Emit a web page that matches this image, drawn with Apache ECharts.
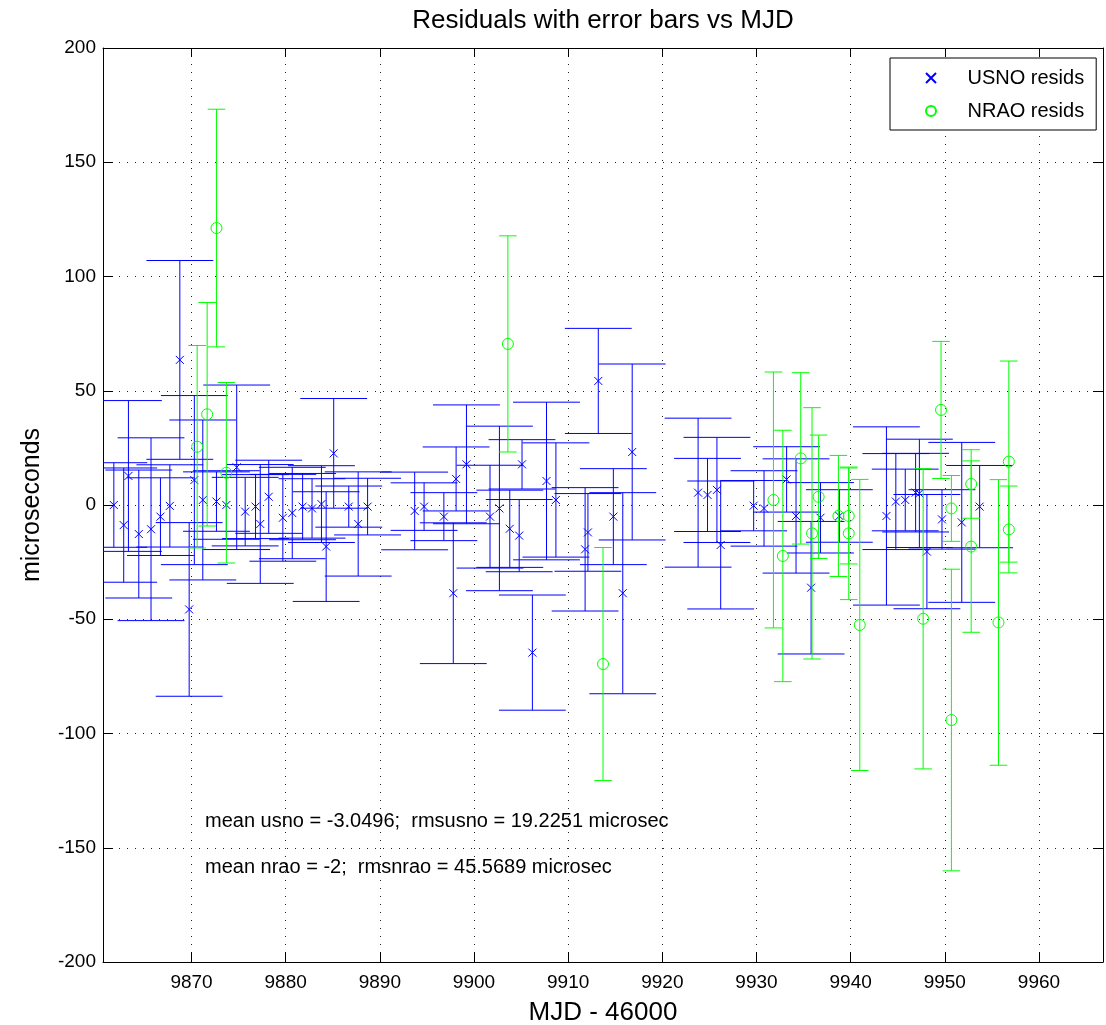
<!DOCTYPE html>
<html>
<head>
<meta charset="utf-8">
<script src="https://cdn.jsdelivr.net/npm/echarts@6/dist/echarts.min.js"></script>
<style>
html,body{margin:0;padding:0;background:#fff;}
#chart{width:1106px;height:1025px;}
</style>
</head>
<body>
<div id="chart"></div>
<script>
// ---- data ----
var titleText = 'Residuals with error bars vs MJD';
var xName = 'MJD - 46000';
var yName = 'microseconds';
var xMin = 9860.6, xMax = 9966.8;
var yMin = -200, yMax = 200, yStep = 50;

var usnoX = [9861.75, 9862.8, 9863.3, 9864.4, 9865.7, 9866.7, 9867.7, 9868.76, 9869.75, 9870.3,
             9871.2, 9872.65, 9873.7, 9874.8, 9875.7, 9876.8, 9877.3, 9878.2, 9879.7, 9880.7,
             9881.8, 9882.8, 9883.8, 9884.3, 9885.1, 9886.7, 9887.7, 9888.7, 9893.7, 9894.7,
             9896.8, 9897.8, 9898.1, 9899.2, 9901.7, 9902.7, 9903.8, 9904.8, 9905.1, 9906.2,
             9907.7, 9908.7, 9911.8, 9912.1, 9913.2, 9914.8, 9915.8, 9916.8, 9923.8, 9924.8,
             9925.8, 9926.2, 9929.7, 9930.8, 9933.2, 9934.2, 9935.8, 9936.8, 9938.8, 9943.8,
             9944.8, 9945.8, 9946.9, 9947.3, 9948.1, 9949.7, 9951.8, 9953.7];
var usnoY = [0, -8.8, 12.7, -12.7, -10.6, -5.1, -0.4, 63.5, -45.7, 10.9,
             2.2, 1.5, 0, 16.5, -2.9, -0.7, -8.3, 3.6, -5.6, -3.5,
             -0.7, -1.5, 0.4, -18.2, 22.6, -0.7, -8.3, -0.7, -2.6, -0.7,
             -5.1, -38.6, 11.4, 17.8, -5.1, -1.5, -10.4, -13.4, 17.8, -64.6,
             10.5, 2.2, -19.4, -12, 54.3, -5.1, -38.6, 23.2, 5.4, 4.4,
             6.6, -17.5, -0.3, -1.5, 11.2, -4.8, -36.2, -5.6, -4.8, -4.8,
             1.5, 2.2, 5.4, 5.1, -20.4, -6.3, -7.6, -0.7];
var usnoErr = [18.5, 25, 33, 28, 40, 17, 18, 43.5, 38, 37,
               35, 13, 15, 36, 15, 14, 26, 16, 19, 20,
               14.5, 13, 16.8, 24, 24, 9, 22.8, 12.4, 17, 10.4,
               10.5, 30.8, 14, 26, 22.5, 36, 16.9, 15.8, 10.8, 25.2,
               34.5, 25, 27, 17, 23, 21, 44, 38.5, 32.6, 16,
               23, 28, 11, 16.5, 14.3, 25, 29, 15.4, 11.5, 39,
               21, 13.5, 17.2, 23.7, 25, 13, 35, 18];

var nraoX = [9870.6, 9871.66, 9872.65, 9873.7, 9903.6, 9913.7, 9931.8, 9932.8, 9934.7, 9935.9,
             9936.6, 9938.7, 9939.8, 9939.8, 9940.97, 9947.7, 9949.6, 9950.7, 9950.7, 9952.8,
             9952.8, 9955.7, 9956.8, 9956.8];
var nraoY = [25.5, 39.7, 121.2, 14.1, 70.5, -69.6, 2.2, -22.3, 20.4, -12.4,
             3.6, -4.8, -4.8, -12.4, -52.5, -49.8, 41.6, -1.5, -94.1, 9.2,
             -18.2, -51.4, 19, -10.7];
var nraoErr = [44.3, 48.9, 52, 39.5, 47.3, 51, 56, 55, 37.5, 55,
               27, 26.5, 21, 29, 63.7, 65.7, 30, 14.4, 66, 15,
               37.5, 62.5, 44, 19];

var legendNames = ['USNO resids', 'NRAO resids'];
var noteLines = ['mean usno = -3.0496;  rmsusno = 19.2251 microsec',
                 'mean nrao = -2;  rmsnrao = 45.5689 microsec'];

// ---- build ----
var BLUE = '#0000ff', GREEN = '#00ff00';
var FONT = "'Liberation Sans', Arial, sans-serif";

function zip3(a, b, c) { return a.map(function (v, i) { return [v, b[i], c[i]]; }); }

function errRenderer(color, tee) {
  return function (params, api) {
    var x = api.value(0), y = api.value(1), e = api.value(2);
    var cs = params.coordSys;
    var top = api.coord([x, y + e]), bot = api.coord([x, y - e]);
    var l = api.coord([x - tee, y])[0], r = api.coord([x + tee, y])[0];
    var xl = Math.max(cs.x, l), xr = Math.min(cs.x + cs.width, r);
    function clampY(v) { return Math.min(cs.y + cs.height, Math.max(cs.y, v)); }
    var ty = clampY(top[1]), by = clampY(bot[1]);
    var st = { stroke: color, lineWidth: 1 };
    var ch = [{ type: 'line', shape: { x1: top[0], y1: ty, x2: bot[0], y2: by }, style: st }];
    if (top[1] >= cs.y) ch.push({ type: 'line', shape: { x1: xl, y1: top[1], x2: xr, y2: top[1] }, style: st });
    if (bot[1] <= cs.y + cs.height) ch.push({ type: 'line', shape: { x1: xl, y1: bot[1], x2: xr, y2: bot[1] }, style: st });
    return { type: 'group', children: ch };
  };
}

var usnoData = zip3(usnoX, usnoY, usnoErr);
var nraoData = zip3(nraoX, nraoY, nraoErr);

var chart = echarts.init(document.getElementById('chart'), null, { renderer: 'canvas' });

var gridSplit = { show: true, lineStyle: { color: '#222', width: 1, type: [1, 7] } };
var axisLine = { show: true, onZero: false, lineStyle: { color: '#000', width: 1 } };

var option = {
  animation: false,
  backgroundColor: '#fff',
  title: {
    text: titleText, left: 598, top: 3, textAlign: 'center',
    textStyle: { fontFamily: FONT, fontSize: 26, fontWeight: 'normal', color: '#000' }
  },
  grid: { left: 103, right: 3, top: 48, bottom: 63, containLabel: false, outerBoundsMode: 'none' },
  legend: {
    data: [
      { name: legendNames[0] },
      { name: legendNames[1] }
    ],
    orient: 'vertical', left: 890, top: 58,
    padding: [10, 12, 9, 35],
    itemWidth: 63, itemHeight: 10, itemGap: 13,
    borderColor: '#000', borderWidth: 1, backgroundColor: '#fff',
    textStyle: { fontFamily: FONT, fontSize: 20, color: '#000' }
  },
  xAxis: [{
    type: 'value', min: xMin, max: xMax, splitNumber: 10,
    position: 'bottom',
    name: xName, nameLocation: 'middle', nameGap: 38,
    nameTextStyle: { fontFamily: FONT, fontSize: 26, color: '#000' },
    axisLine: axisLine,
    axisTick: { show: true, inside: true, length: 10, lineStyle: { color: '#000' } },
    axisLabel: {
      fontFamily: FONT, fontSize: 19, color: '#000', margin: 11, showMinLabel: false, showMaxLabel: false,
      formatter: function (v) { return String(Math.round(v)); }
    },
    splitLine: gridSplit
  }, {
    type: 'value', min: xMin, max: xMax, splitNumber: 10, position: 'top',
    axisLine: axisLine,
    axisTick: { show: true, inside: true, length: 9, lineStyle: { color: '#000' } },
    axisLabel: { show: false }, splitLine: { show: false }
  }],
  yAxis: [{
    type: 'value', min: yMin, max: yMax, interval: yStep, position: 'left',
    name: yName, nameLocation: 'middle', nameGap: 58, nameRotate: 90,
    nameTextStyle: { fontFamily: FONT, fontSize: 25, color: '#000' },
    axisLine: axisLine,
    axisTick: { show: true, inside: true, length: 10, lineStyle: { color: '#000' } },
    axisLabel: { fontFamily: FONT, fontSize: 19, color: '#000', margin: 7 },
    splitLine: gridSplit
  }, {
    type: 'value', min: yMin, max: yMax, interval: yStep, position: 'right',
    axisLine: axisLine,
    axisTick: { show: true, inside: true, length: 10, lineStyle: { color: '#000' } },
    axisLabel: { show: false }, splitLine: { show: false }
  }],
  graphic: [
    { type: 'text', left: 205, top: 811, style: { text: noteLines[0], font: '20px ' + FONT, fill: '#000' }, z: 10 },
    { type: 'text', left: 205, top: 857, style: { text: noteLines[1], font: '20px ' + FONT, fill: '#000' }, z: 10 }
  ],
  series: [
    {
      type: 'custom', name: legendNames[0] + ' err', xAxisIndex: 0, yAxisIndex: 0,
      renderItem: errRenderer(BLUE, 3.55), data: usnoData,
      encode: { x: 0, y: 1 }, silent: true, z: 2
    },
    {
      type: 'scatter', name: legendNames[0], data: usnoData,
      symbol: 'path://M0,0L10,10M10,0L0,10', symbolSize: 8,
      itemStyle: { color: 'transparent', borderColor: BLUE, borderWidth: 1, opacity: 1 },
      encode: { x: 0, y: 1 }, silent: true, z: 3
    },
    {
      type: 'custom', name: legendNames[1] + ' err',
      renderItem: errRenderer(GREEN, 0.93), data: nraoData,
      encode: { x: 0, y: 1 }, silent: true, z: 4
    },
    {
      type: 'scatter', name: legendNames[1], data: nraoData,
      symbol: 'circle', symbolSize: 11,
      itemStyle: { color: 'transparent', borderColor: GREEN, borderWidth: 1, opacity: 1 },
      encode: { x: 0, y: 1 }, silent: true, z: 5
    }
  ]
};
chart.setOption(option);
</script>
</body>
</html>
